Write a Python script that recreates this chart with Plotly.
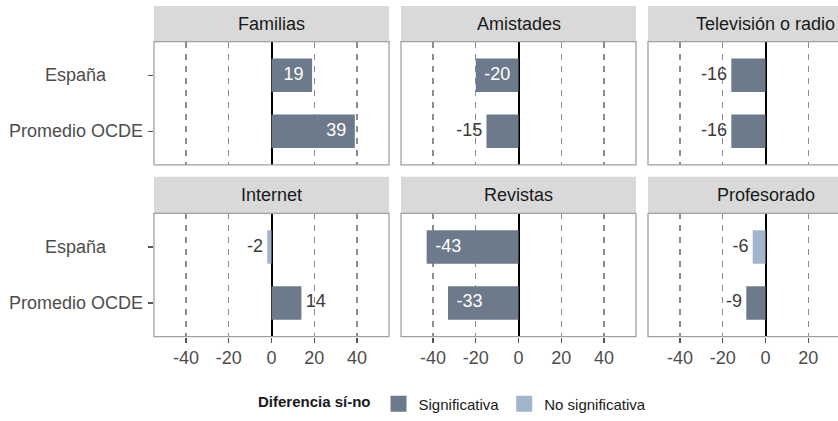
import plotly.graph_objects as go

# ---------------- data ----------------
categories = ["Familias", "Amistades", "Televisión o radio",
              "Internet", "Revistas", "Profesorado"]
groups = ["España", "Promedio OCDE"]
espana = [19, -20, -16, -2, -43, -6]
ocde = [39, -15, -16, 14, -33, -9]
sig_espana = ["Significativa", "Significativa", "Significativa",
              "No significativa", "Significativa", "No significativa"]
sig_ocde = ["Significativa"] * 6
levels = ["Significativa", "No significativa"]
tick_vals = [-40, -20, 0, 20, 40]
tick_text = ["-40", "-20", "0", "20", "40"]

# ---------------- style ----------------
W, H = 838, 421
FONT = "Liberation Sans, Arial, sans-serif"
colors = {"Significativa": "#6C7A8B", "No significativa": "#A3B5CD"}
col_px = [(154, 389), (401, 636), (648, 883)]   # page px
row_px = [(42, 166), (215, 339)]
strip_px = [(6, 42), (178, 215)]
x_full = (-55, 55)


def px_x(p):
    return p / W


def px_y(p):
    return 1 - p / H


fig = go.Figure()
annotations = []
shapes = []
layout_axes = {}

for i, cat in enumerate(categories):
    r, c = divmod(i, 3)
    n = "" if i == 0 else str(i + 1)
    xa, ya = "x" + n, "y" + n
    vals = [espana[i], ocde[i]]
    sigs = [sig_espana[i], sig_ocde[i]]

    for lev in levels:
        xs = [v for v, s in zip(vals, sigs) if s == lev]
        ys = [g for g, s in zip(groups, sigs) if s == lev]
        if xs:
            fig.add_trace(go.Bar(
                x=xs, y=ys, orientation="h", width=0.6,
                marker=dict(color=colors[lev], line=dict(width=0)),
                name=lev, legendgroup=lev, showlegend=False,
                xaxis=xa, yaxis=ya, hoverinfo="x+y"))

    # value labels
    tx, tpos, tcol = [], [], []
    for v in vals:
        sgn = 1 if v >= 0 else -1
        inside = abs(v) >= 19
        if inside:
            tx.append(v - sgn * 4)
            tpos.append("middle left" if sgn > 0 else "middle right")
            tcol.append("white")
        else:
            tx.append(v + sgn * 2)
            tpos.append("middle right" if sgn > 0 else "middle left")
            tcol.append("#3a3a3a")
    fig.add_trace(go.Scatter(
        x=tx, y=groups, mode="text", text=[str(v) for v in vals],
        textposition=tpos, textfont=dict(family=FONT, size=18, color=tcol),
        showlegend=False, hoverinfo="skip", cliponaxis=False,
        xaxis=xa, yaxis=ya))

    # domains
    x0p, x1p = col_px[c]
    visible_right = min(x1p, W)
    dom_x = [px_x(x0p), px_x(visible_right)]
    upu = (x1p - x0p) / (x_full[1] - x_full[0])
    xr = [x_full[0], x_full[0] + (visible_right - x0p) / upu]
    y0p, y1p = row_px[r]
    dom_y = [px_y(y1p), px_y(y0p)]

    xkey = "xaxis" + n
    ykey = "yaxis" + n
    layout_axes[xkey] = dict(
        domain=dom_x, range=xr, anchor=ya, fixedrange=True,
        tickvals=tick_vals, ticktext=tick_text,
        showgrid=True, gridcolor="#8C8C8C", gridwidth=1.3, griddash="6px,6px",
        zeroline=True, zerolinecolor="black", zerolinewidth=2,
        showline=False,
        showticklabels=(r == 1), ticks="outside" if r == 1 else "",
        ticklen=5, tickcolor="#555555", tickwidth=1.2,
        tickfont=dict(family=FONT, size=18, color="#4D4D4D"))
    layout_axes[ykey] = dict(
        domain=dom_y, anchor=xa, type="category", categoryorder="array",
        categoryarray=groups, range=[1.6, -0.6], fixedrange=True,
        showgrid=False, zeroline=False, showline=False,
        showticklabels=False, ticks="outside" if c == 0 else "",
        ticklen=5, tickcolor="#555555", tickwidth=1.2)

    # panel border
    shapes.append(dict(type="rect", xref="paper", yref="paper",
                       x0=px_x(x0p), x1=px_x(x1p), y0=dom_y[0], y1=dom_y[1],
                       line=dict(color="#A0A0A0", width=1.3),
                       fillcolor="rgba(0,0,0,0)", layer="above"))
    # strip
    s0, s1 = strip_px[r]
    shapes.append(dict(type="rect", xref="paper", yref="paper",
                       x0=px_x(x0p), x1=px_x(x1p), y0=px_y(s1), y1=px_y(s0),
                       line=dict(width=0), fillcolor="#D9D9D9", layer="below"))
    annotations.append(dict(
        text=cat, xref="paper", yref="paper",
        x=px_x((x0p + x1p) / 2), y=px_y((s0 + s1) / 2),
        xanchor="center", yanchor="middle", showarrow=False,
        font=dict(family=FONT, size=18, color="#1A1A1A")))

    # y category labels (centred, first column only)
    if c == 0:
        for g in groups:
            annotations.append(dict(
                text=g, xref="paper", yref=ya, x=px_x(76), y=g,
                xanchor="center", yanchor="middle", showarrow=False,
                font=dict(family=FONT, size=18, color="#4D4D4D")))

# legend entries (square keys, same colours as the bars)
for lev in levels:
    fig.add_trace(go.Scatter(
        x=[None], y=[None], mode="markers", name=lev, legendgroup=lev,
        marker=dict(symbol="square", size=16, color=colors[lev],
                    line=dict(width=0)),
        showlegend=True, hoverinfo="skip"))

fig.update_layout(
    width=W, height=H,
    margin=dict(l=0, r=0, t=0, b=0),
    paper_bgcolor="white", plot_bgcolor="white",
    barmode="overlay",
    font=dict(family=FONT, size=15, color="#1A1A1A"),
    shapes=shapes, annotations=annotations,
    legend=dict(
        orientation="h", x=px_x(256), xanchor="left",
        y=px_y(407), yanchor="middle", itemsizing="trace",
        title=dict(text="<b>Diferencia sí-no</b>",
                   font=dict(family=FONT, size=15, color="#1A1A1A")),
        font=dict(family=FONT, size=15, color="#1A1A1A"),
        bgcolor="rgba(0,0,0,0)", itemclick=False, itemdoubleclick=False),
    **layout_axes)

fig.write_html(
    "out.html",
    config={"displayModeBar": False, "staticPlot": True},
    post_script="document.body.style.margin='0';"
                "document.body.style.overflow='hidden';")
